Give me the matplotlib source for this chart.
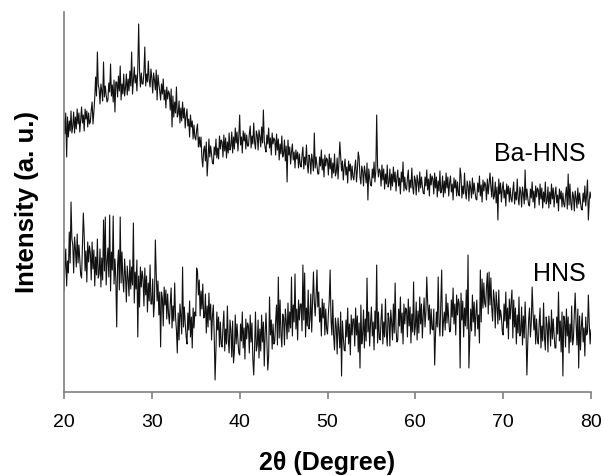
import numpy as np
import matplotlib
matplotlib.use("Agg")
import matplotlib.pyplot as plt

plt.rcParams['font.family'] = ['Liberation Sans', 'DejaVu Sans']

# sampling grid: 2theta from 20 to 80 deg every 0.1 deg
two_theta = np.linspace(20, 80, 601)

# intensities (arbitrary units), one row per degree
ba_hns = [
    273, 258, 279, 235, 275, 255, 271, 261, 281, 259,
    266, 280, 259, 275, 263, 283, 268, 279, 260, 273,
    285, 269, 277, 261, 283, 273, 281, 265, 279, 268,
    270, 282, 290, 268, 280, 294, 315, 296, 340, 307,
    303, 288, 308, 301, 291, 330, 295, 306, 297, 290,
    292, 309, 300, 328, 296, 307, 290, 312, 280, 310,
    310, 295, 316, 301, 326, 292, 308, 298, 318, 296,
    304, 318, 297, 313, 301, 321, 306, 340, 298, 311,
    325, 309, 317, 301, 323, 368, 321, 305, 319, 308,
    308, 320, 345, 306, 318, 310, 331, 312, 305, 323,
    314, 299, 319, 312, 302, 322, 292, 317, 308, 301,
    292, 308, 298, 313, 292, 302, 284, 305, 293, 301,
    298, 282, 303, 265, 296, 275, 290, 279, 305, 275,
    278, 291, 269, 284, 271, 290, 274, 284, 264, 276,
    283, 266, 273, 255, 277, 265, 271, 253, 267, 255,
    252, 262, 268, 245, 255, 245, 255, 234, 225, 242,
    246, 231, 250, 216, 232, 253, 235, 246, 238, 229,
    228, 245, 237, 253, 234, 244, 233, 256, 243, 252,
    250, 235, 257, 241, 254, 234, 250, 239, 259, 242,
    246, 260, 239, 255, 243, 264, 249, 260, 241, 255,
    277, 247, 255, 239, 261, 251, 259, 243, 257, 246,
    246, 258, 266, 244, 256, 248, 269, 250, 243, 261,
    257, 242, 262, 255, 245, 265, 249, 282, 251, 244,
    240, 257, 248, 264, 244, 254, 237, 259, 248, 254,
    252, 237, 258, 242, 253, 232, 248, 238, 256, 235,
    238, 252, 231, 246, 210, 252, 237, 245, 228, 240,
    248, 232, 240, 224, 242, 233, 240, 224, 238, 227,
    225, 237, 245, 223, 235, 227, 247, 228, 219, 237,
    233, 218, 238, 231, 221, 259, 224, 235, 226, 218,
    218, 235, 226, 242, 222, 233, 215, 237, 226, 234,
    232, 217, 238, 223, 234, 214, 229, 219, 238, 216,
    220, 234, 213, 229, 250, 236, 221, 231, 212, 225,
    233, 217, 225, 209, 231, 221, 228, 212, 226, 215,
    212, 224, 232, 210, 222, 240, 234, 215, 208, 226,
    221, 206, 226, 219, 209, 229, 192, 223, 214, 207,
    206, 223, 214, 230, 210, 221, 277, 226, 215, 223,
    221, 206, 227, 212, 223, 203, 218, 208, 227, 205,
    209, 223, 202, 218, 206, 225, 210, 220, 201, 214,
    222, 206, 214, 198, 220, 210, 230, 201, 215, 204,
    202, 214, 222, 200, 212, 204, 224, 205, 198, 216,
    212, 197, 217, 210, 200, 220, 204, 215, 206, 199,
    198, 215, 206, 222, 202, 213, 196, 218, 207, 216,
    213, 198, 219, 204, 215, 195, 211, 201, 221, 199,
    202, 216, 195, 211, 199, 219, 204, 215, 196, 209,
    216, 200, 208, 192, 214, 204, 212, 196, 210, 199,
    196, 224, 216, 194, 206, 198, 219, 200, 193, 211,
    206, 191, 211, 204, 194, 214, 198, 209, 200, 193,
    192, 209, 200, 216, 196, 207, 190, 212, 201, 210,
    207, 192, 213, 198, 209, 219, 205, 195, 215, 193,
    196, 210, 189, 205, 172, 213, 198, 209, 190, 203,
    210, 194, 202, 186, 208, 198, 206, 190, 204, 193,
    190, 202, 210, 188, 200, 192, 213, 194, 187, 205,
    200, 185, 205, 198, 188, 222, 192, 203, 194, 187,
    186, 203, 194, 210, 190, 201, 184, 206, 195, 204,
    202, 187, 208, 193, 204, 184, 200, 190, 210, 188,
    191, 205, 184, 200, 188, 208, 193, 204, 185, 198,
    205, 189, 197, 181, 203, 193, 201, 185, 199, 188,
    185, 197, 205, 183, 218, 187, 208, 189, 182, 200,
    196, 181, 201, 194, 184, 204, 188, 199, 190, 183,
    182, 199, 190, 206, 186, 197, 212, 172, 191, 200,
    194,
]

hns = [
    101, 125, 143, 106, 131, 119, 160, 129, 190, 153,
    147, 119, 155, 143, 125, 158, 129, 147, 132, 117,
    114, 145, 179, 157, 121, 141, 110, 150, 130, 146,
    139, 112, 150, 123, 142, 106, 135, 117, 153, 114,
    118, 143, 105, 134, 112, 172, 121, 175, 107, 130,
    144, 115, 177, 101, 140, 122, 176, 108, 133, 113,
    65, 127, 142, 102, 175, 109, 140, 113, 100, 133,
    117, 90, 126, 114, 96, 132, 103, 125, 107, 169,
    89, 120, 103, 132, 55, 116, 85, 125, 105, 121,
    113, 86, 124, 97, 116, 80, 109, 91, 127, 88,
    88, 113, 75, 90, 152, 118, 91, 111, 77, 100,
    45, 100, 94, 66, 105, 87, 102, 73, 98, 78,
    68, 89, 104, 64, 86, 71, 109, 75, 62, 39,
    79, 52, 88, 76, 58, 125, 65, 85, 69, 56,
    48, 79, 62, 91, 55, 75, 44, 84, 64, 80,
    76, 124, 120, 97, 112, 76, 101, 83, 108, 74,
    75, 98, 59, 86, 65, 99, 72, 88, 52, 76,
    87, 58, 12, 42, 80, 62, 75, 45, 70, 48,
    45, 66, 81, 41, 63, 48, 86, 52, 39, 72,
    62, 35, 71, 29, 41, 77, 48, 68, 52, 39,
    37, 68, 51, 80, 44, 64, 33, 73, 53, 69,
    66, 39, 77, 50, 69, 33, 17, 44, 80, 41,
    47, 72, 34, 63, 41, 77, 50, 70, 26, 59,
    79, 50, 22, 36, 95, 57, 72, 43, 68, 48,
    51, 72, 87, 47, 115, 54, 92, 58, 45, 78,
    74, 47, 83, 71, 53, 89, 60, 80, 64, 115,
    56, 87, 70, 118, 63, 83, 52, 92, 72, 88,
    88, 61, 127, 72, 119, 55, 84, 66, 102, 63,
    73, 98, 60, 89, 120, 90, 76, 96, 122, 85,
    100, 70, 84, 56, 93, 74, 89, 57, 83, 63,
    58, 78, 92, 122, 72, 57, 92, 56, 42, 74,
    65, 38, 74, 62, 44, 80, 16, 71, 55, 42,
    41, 72, 55, 84, 48, 68, 37, 77, 57, 73,
    73, 46, 84, 57, 76, 40, 69, 24, 87, 48,
    57, 82, 44, 73, 51, 114, 60, 80, 46, 69,
    85, 56, 70, 42, 81, 63, 127, 49, 80, 54,
    52, 73, 88, 48, 70, 55, 93, 59, 46, 79,
    73, 46, 82, 70, 52, 88, 59, 109, 63, 50,
    52, 83, 66, 95, 59, 79, 48, 88, 68, 84,
    82, 55, 93, 66, 85, 49, 78, 60, 110, 57,
    65, 90, 52, 81, 59, 95, 68, 88, 54, 77,
    94, 65, 79, 115, 90, 72, 87, 58, 83, 63,
    62, 83, 27, 58, 80, 65, 115, 69, 56, 89,
    122, 56, 70, 80, 62, 98, 69, 89, 73, 60,
    61, 92, 75, 104, 68, 88, 57, 97, 77, 93,
    88, 24, 99, 72, 91, 55, 84, 66, 102, 63,
    137, 24, 54, 83, 61, 97, 70, 90, 56, 79,
    92, 63, 77, 49, 122, 70, 113, 84, 109, 89,
    85, 105, 119, 78, 120, 87, 114, 84, 71, 102,
    92, 64, 100, 86, 68, 102, 72, 82, 75, 61,
    57, 88, 71, 100, 64, 84, 53, 93, 73, 89,
    102, 54, 92, 65, 84, 48, 77, 59, 95, 56,
    60, 85, 47, 76, 54, 90, 63, 17, 49, 72,
    84, 55, 69, 105, 80, 62, 77, 48, 73, 53,
    48, 69, 84, 44, 66, 51, 89, 55, 42, 75,
    67, 40, 76, 64, 46, 82, 53, 73, 57, 44,
    44, 75, 58, 100, 51, 71, 40, 80, 16, 76,
    72, 45, 83, 56, 75, 39, 68, 50, 86, 47,
    53, 78, 99, 69, 47, 83, 24, 76, 42, 65,
    79, 50, 64, 36, 75, 57, 60, 97, 68, 48,
    62,
]

fig = plt.figure(figsize=(6.04, 4.76), dpi=100)
ax = fig.add_axes([64/604, 1 - 392/476, 527/604, 380/476])

ax.plot(two_theta, ba_hns, color='#111111', lw=0.8)
ax.plot(two_theta, hns, color='#111111', lw=0.8)

ax.text(79.4, 238, 'Ba-HNS', fontsize=18, ha='right', va='center')
ax.text(79.4, 118, 'HNS', fontsize=18, ha='right', va='center')

ax.set_xlim(20, 80)
ax.set_ylim(0, 380)
ax.set_xticks([20, 30, 40, 50, 60, 70, 80])
ax.set_yticks([])
for s in ['top', 'right']:
    ax.spines[s].set_visible(False)
for s in ['left', 'bottom']:
    ax.spines[s].set_color('#808080')
    ax.spines[s].set_linewidth(1.2)
ax.tick_params(axis='x', direction='out', length=5, width=1.2, color='#808080',
               labelsize=14, pad=11)

ax.set_xlabel('2θ (Degree)', fontsize=18, fontweight='bold', labelpad=14)
ax.set_ylabel('Intensity (a. u.)', fontsize=18.5, fontweight='bold', labelpad=18)

fig.savefig('out.png', dpi=100)
